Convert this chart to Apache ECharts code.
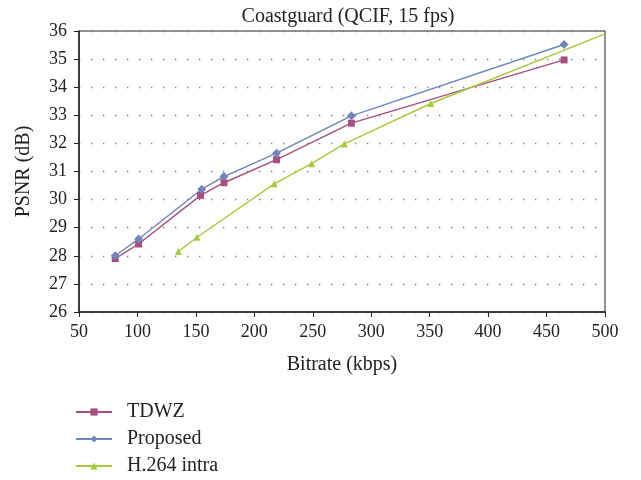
<!DOCTYPE html>
<html>
<head>
<meta charset="utf-8">
<title>Coastguard (QCIF, 15 fps)</title>
<script src="https://cdn.jsdelivr.net/npm/echarts@6/dist/echarts.min.js"></script>
<style>
html, body { margin: 0; padding: 0; background: #fff; }
#main { width: 641px; height: 480px; }
</style>
</head>
<body>
<div id="main"></div>
<script>
// data: [bitrate kbps, PSNR dB]
var tdwz = [[81, 27.9], [101, 28.42], [154, 30.15], [174, 30.6], [219, 31.42], [283, 32.72], [465, 34.97]];
var proposed = [[81, 28.0], [101, 28.6], [155, 30.37], [174, 30.82], [219, 31.65], [283, 32.98], [465, 35.52]];
var h264 = [[135, 28.15], [151, 28.66], [217, 30.56], [249, 31.28], [277, 31.98], [351, 33.42]];
var h264End = [500, 35.9];   // line runs into the frame edge, no marker drawn there

var seriesNames = ['TDWZ', 'Proposed', 'H.264 intra'];
var colors = ['#a5507e', '#7284bb', '#a9c93d'];
var font = 'Liberation Serif';

var h264Data = h264.map(function (p) { return p; });
h264Data.push({ value: h264End, symbol: 'none' });

echarts.init(document.getElementById('main')).setOption({
    animation: false,
    title: {
        text: 'Coastguard (QCIF, 15 fps)',
        left: 343,
        textAlign: 'center',
        top: 2,
        textStyle: { fontFamily: font, fontSize: 20, fontWeight: 'normal', color: '#222' }
    },
    legend: {
        data: seriesNames,
        orient: 'vertical',
        left: 75,
        top: 402,
        padding: 0,
        itemWidth: 36,
        itemHeight: 9,
        itemGap: 7,
        textStyle: { fontFamily: font, fontSize: 20, color: '#222', padding: [0, 0, 0, 10] }
    },
    grid: {
        left: 79,
        right: 36,
        top: 31,
        bottom: 168,
        show: true,
        borderColor: '#222',
        borderWidth: 1
    },
    xAxis: {
        type: 'value',
        min: 50,
        max: 500,
        interval: 50,
        name: 'Bitrate (kbps)',
        nameLocation: 'middle',
        nameGap: 43,
        nameTextStyle: { fontFamily: font, fontSize: 20, color: '#222' },
        axisLine: { lineStyle: { color: '#222', width: 1.5 } },
        axisTick: { show: true, length: 5, lineStyle: { color: '#222' } },
        axisLabel: { fontFamily: font, fontSize: 18, color: '#222', margin: 11 },
        splitLine: { show: false }
    },
    yAxis: {
        type: 'value',
        min: 26,
        max: 36,
        interval: 1,
        name: 'PSNR (dB)',
        nameLocation: 'middle',
        nameGap: 45,
        nameTextStyle: { fontFamily: font, fontSize: 20, color: '#222' },
        axisLine: { show: true, lineStyle: { color: '#222', width: 1.5 } },
        axisTick: { show: true, length: 5, lineStyle: { color: '#222' } },
        axisLabel: { fontFamily: font, fontSize: 18, color: '#222', margin: 12 },
        splitLine: { show: true, lineStyle: { color: '#777', type: [1.3, 10.7], width: 1.3 } }
    },
    series: [
        {
            name: 'TDWZ',
            type: 'line',
            data: tdwz,
            symbol: 'rect',
            symbolSize: 7,
            color: colors[0],
            lineStyle: { width: 1.4 }
        },
        {
            name: 'Proposed',
            type: 'line',
            data: proposed,
            symbol: 'diamond',
            symbolSize: 9,
            color: colors[1],
            lineStyle: { width: 1.4 }
        },
        {
            name: 'H.264 intra',
            type: 'line',
            data: h264Data,
            symbol: 'triangle',
            symbolSize: 7,
            color: colors[2],
            lineStyle: { width: 1.4 }
        }
    ]
});
</script>
</body>
</html>
